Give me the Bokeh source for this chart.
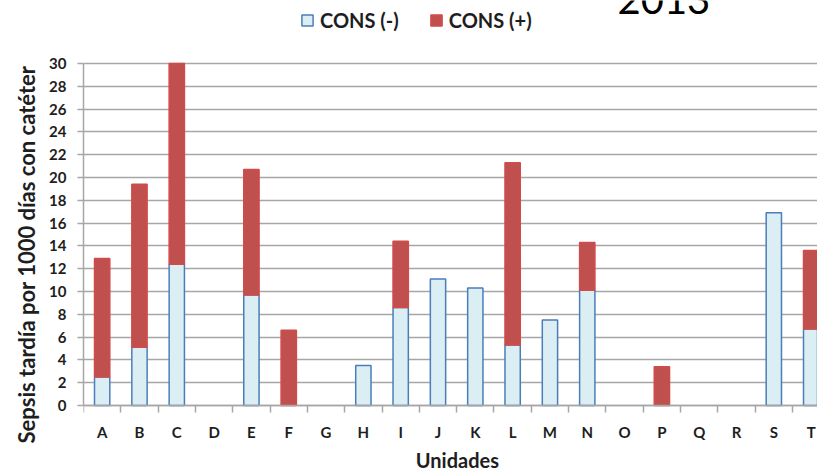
import numpy as np
from bokeh.plotting import figure
from bokeh.models import ColumnDataSource, FixedTicker, Range1d, Label, Legend, LegendItem, Title
from bokeh.embed import file_html
from bokeh.resources import INLINE

# ---- data ----
units = ["A", "B", "C", "D", "E", "F", "G", "H", "I", "J",
         "K", "L", "M", "N", "O", "P", "Q", "R", "S", "T"]
cons_neg = [2.5, 5.1, 12.4, 0, 9.7, 0, 0, 3.5, 8.6, 11.1,
            10.3, 5.3, 7.5, 10.1, 0, 0, 0, 0, 16.9, 6.7]
cons_pos = [10.4, 14.3, 17.6, 0, 11.0, 6.6, 0, 0, 5.8, 0,
            0, 16.0, 0, 4.2, 0, 3.4, 0, 0, 0, 6.9]
y_ticks = list(range(0, 31, 2))
series_names = ["CONS (-)", "CONS (+)"]
year_text = "2013"
x_title = "Unidades"
y_title = "Sepsis tardía por 1000 días con catéter"

# ---- build sources ----
xpos = np.arange(len(units))
neg = np.array(cons_neg, dtype=float)
pos = np.array(cons_pos, dtype=float)
mn = neg > 0
mp = pos > 0
src_neg = ColumnDataSource(dict(x=xpos[mn], bottom=np.zeros(mn.sum()), top=neg[mn]))
src_pos = ColumnDataSource(dict(x=xpos[mp], bottom=neg[mp], top=(neg + pos)[mp]))

FONT = "Lato"
GRID = "#A6A6A6"
TXT = "#1E1E1E"

p = figure(width=817, height=473,
           x_range=Range1d(-0.5, 19.17), y_range=Range1d(-5.965, 35.526),
           output_backend="svg", toolbar_location=None,
           min_border_left=83, min_border_right=0,
           min_border_top=0, min_border_bottom=0)
p.outline_line_color = None
p.background_fill_color = "white"
p.border_fill_color = "white"

r_neg = p.vbar(x="x", bottom="bottom", top="top", width=0.41, source=src_neg,
               fill_color="#DBEEF4", line_color="#4A7EBB", line_width=1.5)
r_pos = p.vbar(x="x", bottom="bottom", top="top", width=0.41, source=src_pos,
               fill_color="#C0504D", line_color="#D24B4B", line_width=1.5)

# grid
p.xgrid.grid_line_color = None
p.ygrid.grid_line_color = GRID
p.ygrid.grid_line_width = 1.5

# y axis
p.yaxis.ticker = FixedTicker(ticks=y_ticks)
p.yaxis.bounds = (0, 30)
p.yaxis.axis_line_color = GRID
p.yaxis.axis_line_width = 1.5
p.yaxis.major_tick_line_color = GRID
p.yaxis.major_tick_line_width = 1.5
p.yaxis.major_tick_out = 6
p.yaxis.major_tick_in = 0
p.yaxis.minor_tick_line_color = None
p.yaxis.major_label_standoff = 11
p.yaxis.major_label_text_font = FONT
p.yaxis.major_label_text_font_style = "bold"
p.yaxis.major_label_text_font_size = "15px"
p.yaxis.major_label_text_color = TXT

# x axis pinned at y = 0: labels at centers, ticks between categories
p.xaxis.fixed_location = 0
p.xaxis.ticker = FixedTicker(ticks=list(range(len(units))),
                             minor_ticks=[i + 0.5 for i in range(-1, len(units))])
p.xaxis.major_label_overrides = {i: u for i, u in enumerate(units)}
p.xaxis.axis_line_color = GRID
p.xaxis.axis_line_width = 1.5
p.xaxis.major_tick_line_color = None
p.xaxis.major_tick_out = 0
p.xaxis.major_tick_in = 0
p.xaxis.minor_tick_line_color = GRID
p.xaxis.minor_tick_line_width = 1.5
p.xaxis.minor_tick_out = 7
p.xaxis.minor_tick_in = 0
p.xaxis.major_label_standoff = 11
p.xaxis.major_label_text_font = FONT
p.xaxis.major_label_text_font_style = "bold"
p.xaxis.major_label_text_font_size = "15px"
p.xaxis.major_label_text_color = TXT

# axis titles
p.add_layout(Label(x=9.52, y=-4.82, text=x_title, text_align="center",
                   text_baseline="middle", text_font=FONT,
                   text_font_style="bold", text_font_size="20px", text_color=TXT))
p.add_layout(Title(text=y_title, align="left", offset=30, standoff=13,
                   text_font=FONT, text_font_style="bold",
                   text_font_size="22px", text_color=TXT), "left")

# year (partially out of view at the top, as in the reference)
p.add_layout(Label(x=13.81, y=35.57, text=year_text, text_align="left",
                   text_baseline="middle", text_font=FONT,
                   text_font_size="40px", text_color="black"))

legend = Legend(items=[LegendItem(label=series_names[0], renderers=[r_neg]),
                       LegendItem(label=series_names[1], renderers=[r_pos])],
                orientation="horizontal", location=(217, 441),
                border_line_color=None, background_fill_alpha=0,
                padding=0, margin=0, spacing=30,
                glyph_width=14, glyph_height=14, label_standoff=6,
                label_text_font=FONT, label_text_font_style="bold",
                label_text_font_size="20px", label_text_color=TXT)
p.add_layout(legend)

open("out.html", "w").write(file_html(p, INLINE))
